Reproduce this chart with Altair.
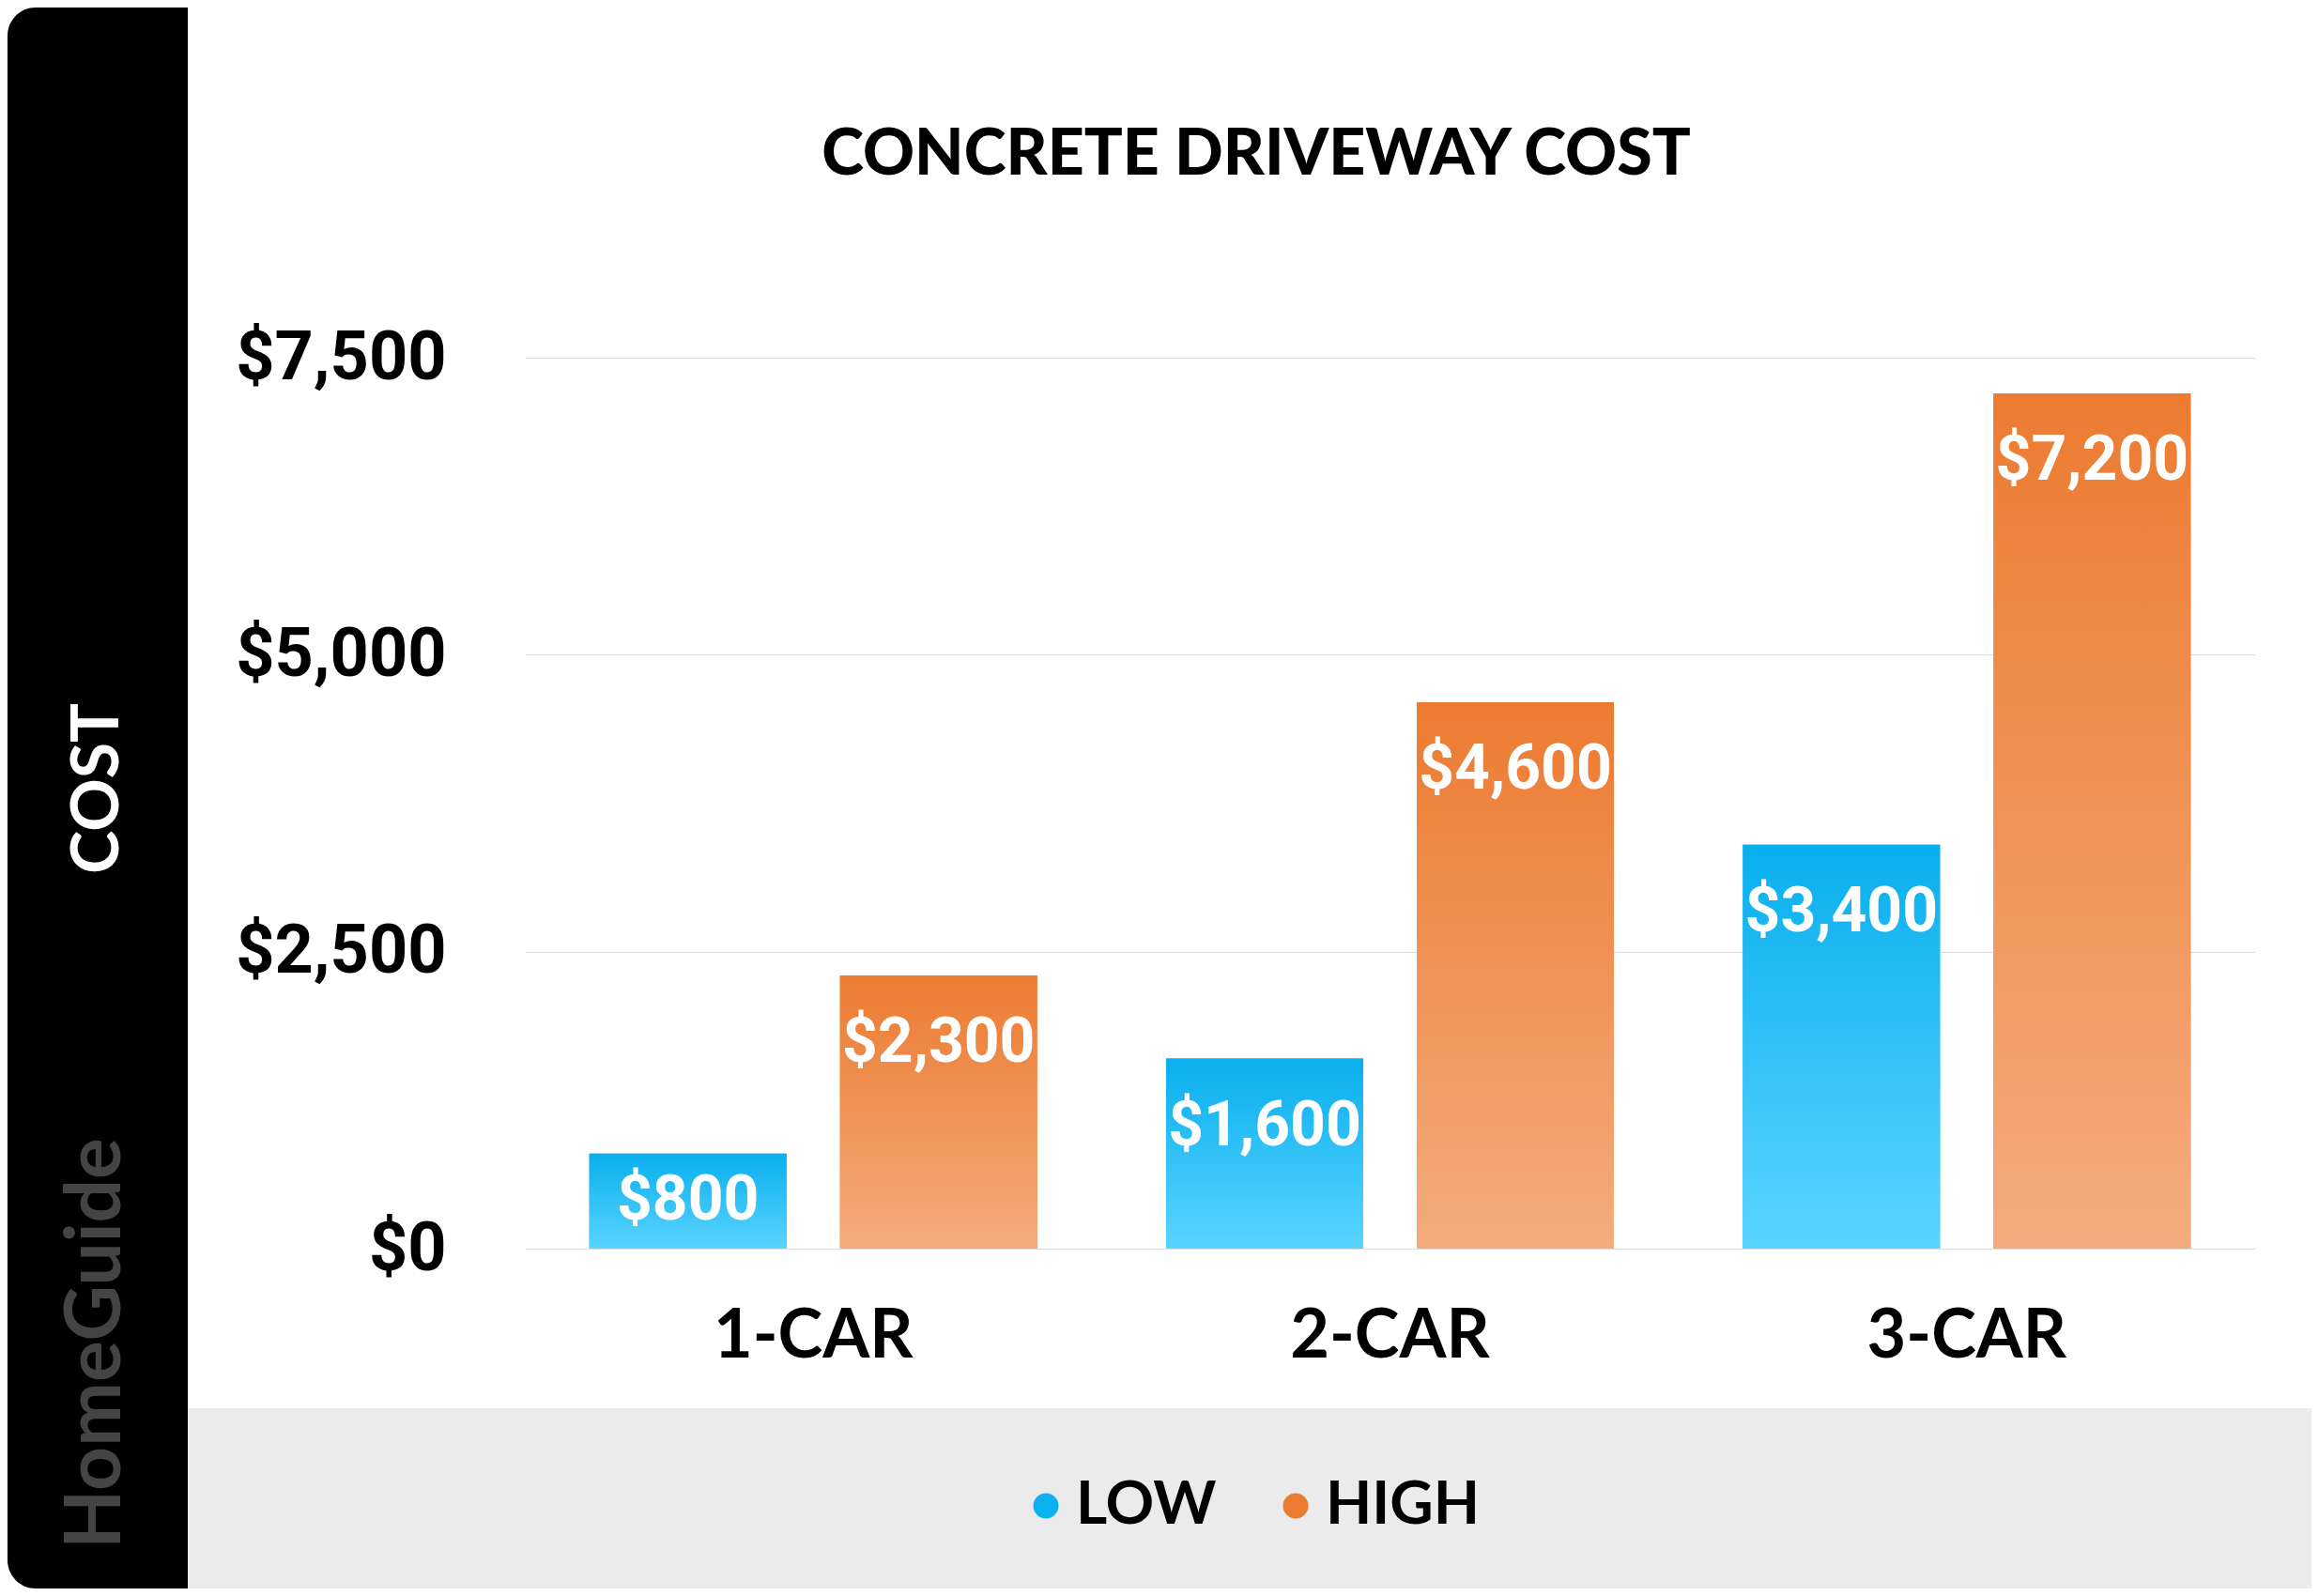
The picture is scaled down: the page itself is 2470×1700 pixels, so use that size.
import altair as alt
import pandas as pd

categories = ["1-CAR", "2-CAR", "3-CAR"]
levels = ["LOW", "HIGH"]
low_values = [800, 1600, 3400]
high_values = [2300, 4600, 7200]
y_ticks = [0, 2500, 5000, 7500]
level_colors = ["#0BB1EE", "#EC7C30"]
title_text = "CONCRETE DRIVEWAY COST"
y_title = "COST"
brand_text = "HomeGuide"

rows = []
for c, lo, hi in zip(categories, low_values, high_values):
    rows.append({"size": c, "level": "LOW", "cost": lo})
    rows.append({"size": c, "level": "HIGH", "cost": hi})
df = pd.DataFrame(rows)

x_axis = alt.Axis(labelFont="Lato", labelFontSize=72, labelFontWeight="bold",
                  labelColor="black", labelAngle=0, labelPadding=58,
                  labelLimit=1000, domain=False, ticks=False, grid=False,
                  title=None)
y_axis = alt.Axis(values=y_ticks, format="$,.0f", labelFont="Roboto",
                  labelFontSize=72, labelFontWeight="bold", labelColor="black",
                  labelPadding=84, labelLimit=1000, domain=False, ticks=False,
                  grid=True, gridColor="#dcdcdc", gridWidth=1.2, title=None)

x_scale = alt.Scale(paddingInner=0.2235, paddingOuter=0.1118)
xo_scale = alt.Scale(domain=levels, paddingInner=0.2135, paddingOuter=0)
y_scale = alt.Scale(domain=[0, 7500], nice=False)

x_enc = alt.X("size:N", sort=categories, scale=x_scale, axis=x_axis)
xo_enc = alt.XOffset("level:N", sort=levels, scale=xo_scale)

grad_blue = alt.Gradient(gradient="linear",
                         stops=[alt.GradientStop(color="#09AFEE", offset=0),
                                alt.GradientStop(color="#5AD4FF", offset=1)],
                         x1=0, x2=0, y1=0, y2=1)
grad_orange = alt.Gradient(gradient="linear",
                           stops=[alt.GradientStop(color="#EC7B31", offset=0),
                                  alt.GradientStop(color="#F3AC7D", offset=1)],
                           x1=0, x2=0, y1=0, y2=1)

base = alt.Chart(df)

legend_bars = base.mark_bar().encode(
    x=x_enc, xOffset=xo_enc,
    y=alt.Y("cost:Q", scale=y_scale, axis=y_axis),
    color=alt.Color("level:N", sort=levels,
                    scale=alt.Scale(domain=levels, range=level_colors),
                    legend=alt.Legend(orient="none", legendX=523, legendY=1191,
                                      direction="horizontal", title=None,
                                      symbolType="circle", symbolSize=729,
                                      symbolStrokeWidth=0, symbolOpacity=1,
                                      labelFont="Lato", labelFontSize=64,
                                      labelFontWeight="bold", labelColor="black",
                                      labelOffset=0, labelLimit=1000,
                                      columnPadding=52, padding=0)),
)

low_bars = base.transform_filter("datum.level === 'LOW'").mark_bar(color=grad_blue).encode(
    x=x_enc, xOffset=xo_enc, y=alt.Y("cost:Q", scale=y_scale, axis=y_axis))
high_bars = base.transform_filter("datum.level === 'HIGH'").mark_bar(color=grad_orange).encode(
    x=x_enc, xOffset=xo_enc, y=alt.Y("cost:Q", scale=y_scale, axis=y_axis))

labels = base.transform_calculate(
    label_y="max(datum.cost - 569, datum.cost / 2)"
).mark_text(font="Roboto", fontSize=66, fontWeight="bold", color="white",
            baseline="middle").encode(
    x=x_enc, xOffset=xo_enc,
    y=alt.Y("label_y:Q", scale=y_scale, axis=y_axis),
    text=alt.Text("cost:Q", format="$,.0f"),
)

one = pd.DataFrame({"d": [0]})
side_panel = alt.Chart(one).mark_rect(
    color="black", cornerRadiusTopLeft=30, cornerRadiusBottomLeft=30
).encode(x=alt.value(-551), x2=alt.value(-359), y=alt.value(-373), y2=alt.value(1311))
bottom_band = alt.Chart(one).mark_rect(color="#EBEBEB").encode(
    x=alt.value(-359), x2=alt.value(1903), y=alt.value(1119), y2=alt.value(1311))
brand = alt.Chart(one).mark_text(
    angle=270, fontSize=82, font="Lato", fontWeight="bold", color="#444444",
    align="center", baseline="middle"
).encode(x=alt.value(-456), y=alt.value(1050), text=alt.value(brand_text))
y_title_mark = alt.Chart(one).mark_text(
    angle=270, fontSize=70, font="Lato", fontWeight="bold", color="white",
    align="center", baseline="middle"
).encode(x=alt.value(-454), y=alt.value(459), text=alt.value(y_title))
title_mark = alt.Chart(one).mark_text(
    fontSize=68, font="Lato", fontWeight=900, color="black",
    align="center", baseline="alphabetic"
).encode(x=alt.value(779), y=alt.value(-195), text=alt.value(title_text))

chart = alt.layer(
    side_panel, bottom_band, brand, y_title_mark, title_mark,
    legend_bars, low_bars, high_bars, labels
).properties(
    width=1843, height=949,
    autosize=alt.AutoSizeParams(type="none"),
    padding={"left": 551, "top": 373, "right": 60, "bottom": 362},
    background="white",
).configure_view(strokeWidth=0, stroke="transparent")

chart.save("out.html", embed_options={"renderer": "svg", "actions": False})
